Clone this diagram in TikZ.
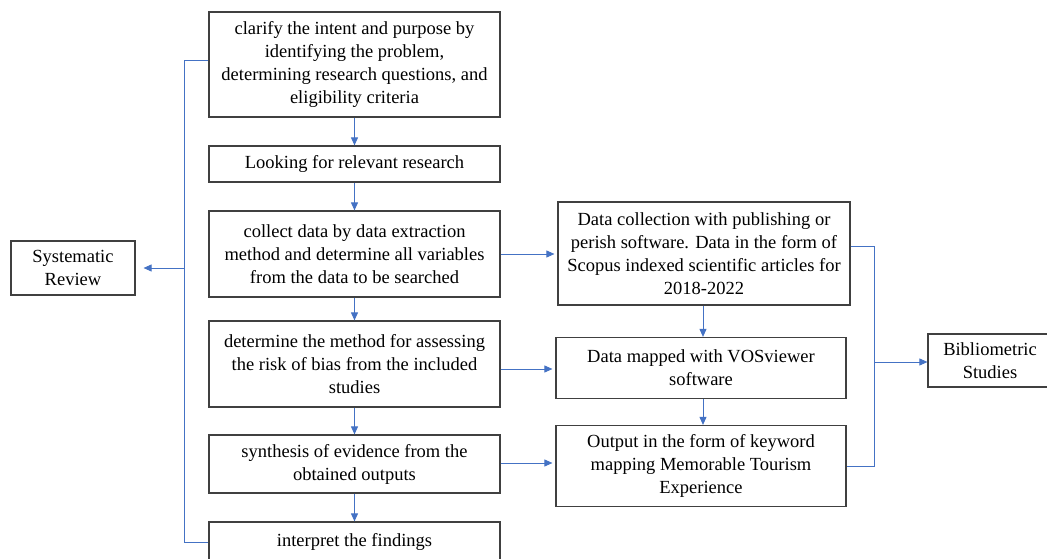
\documentclass[tikz,border=0pt]{standalone}
\usepackage{fontspec}
\setmainfont{Liberation Serif}
\usetikzlibrary{arrows.meta}
\definecolor{boxline}{HTML}{404040}
\definecolor{arrowblue}{HTML}{4472C4}
\begin{document}
\begin{tikzpicture}[x=1pt,y=-1pt,
  box/.style={draw=boxline,line width=1.2pt,rectangle,inner sep=0pt,align=center,
    font=\fontsize{18.5}{23}\selectfont},
  conn/.style={draw=arrowblue,line width=0.9pt},
  arr/.style={conn,-{Triangle[length=8pt,width=7pt]}}]
\useasboundingbox (0,0) rectangle (1047,559);
% left column
\node[box,minimum width=291pt,minimum height=105pt] (b1) at (354.5,64.5)
  {clarify the intent and purpose by\\identifying the problem,\\determining research questions, and\\eligibility criteria};
\node[box,minimum width=291pt,minimum height=36pt] (b2) at (354.5,164)
  {Looking for relevant research};
\node[box,minimum width=291pt,minimum height=86pt] (b3) at (354.5,254)
  {collect data by data extraction\\method and determine all variables\\from the data to be searched};
\node[box,minimum width=291pt,minimum height=86pt] (b4) at (354.5,364)
  {determine the method for assessing\\the risk of bias from the included\\studies};
\node[box,minimum width=291pt,minimum height=58pt] (b5) at (354.5,464)
  {synthesis of evidence from the\\obtained outputs};
\node[box,minimum width=291pt,minimum height=40pt] (b6) at (354.5,542)
  {interpret the findings};
% right column
\node[box,minimum width=292pt,minimum height=103pt] (ra) at (704,253.5)
  {Data collection with publishing or\\perish software. Data in the form of\\Scopus indexed scientific articles for\\2018-2022};
\node[box,minimum width=290pt,minimum height=61pt] (rb) at (701,368)
  {Data mapped with VOSviewer\\software};
\node[box,minimum width=290pt,minimum height=81pt] (rc) at (701,466)
  {Output in the form of keyword\\mapping Memorable Tourism\\Experience};
% side boxes
\node[box,minimum width=124pt,minimum height=54pt] (sr) at (73,268)
  {Systematic\\Review};
\node[box,minimum width=140pt,minimum height=53pt] (bs) at (998,360.5) {};
\node[align=center,inner sep=0pt,font=\fontsize{18.5}{23}\selectfont] (bst) at (990,361)
  {Bibliometric\\Studies};
% vertical arrows left
\foreach \a/\b in {b1/b2,b2/b3,b3/b4,b4/b5,b5/b6}
  \draw[arr] (\a.south) -- (\b.north);
% right vertical arrows
\draw[arr] (ra.south -| 703,0) -- (rb.north -| 703,0);
\draw[arr] (rb.south -| 703,0) -- (rc.north -| 703,0);
% horizontal arrows
\draw[arr,shorten >=3pt] (b3.east |- 0,254) -- (ra.west |- 0,254);
\draw[arr,shorten >=3pt] (b4.east |- 0,369) -- (rb.west |- 0,369);
\draw[arr,shorten >=3pt] (b5.east |- 0,463) -- (rc.west |- 0,463);
% left bracket
\coordinate (lt) at (184,60);
\coordinate (lb) at (184,542);
\coordinate (lm) at (184,268);
\draw[conn] (b1.west |- lt) -- (lt) -- (lb) -- (b6.west |- lb);
\draw[arr,shorten >=8pt] (lm) -- (sr.east |- lm);
% right bracket
\coordinate (rt) at (874,246);
\coordinate (rbt) at (874,466);
\coordinate (rm) at (874,362);
\draw[conn] (ra.east |- rt) -- (rt) -- (rbt) -- (rc.east |- rbt);
\draw[arr] (rm) -- (bs.west |- rm);
\end{tikzpicture}
\end{document}
